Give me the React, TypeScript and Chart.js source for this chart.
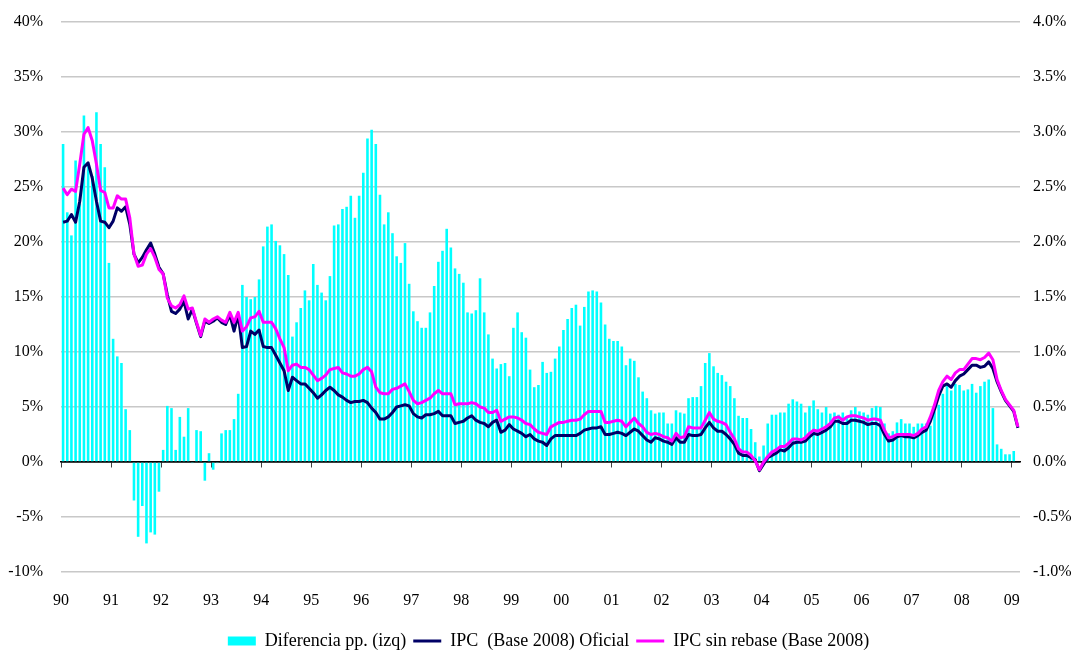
import React, { useEffect, useRef } from "react";
import { Chart, registerables } from "chart.js";

Chart.register(...registerables);

// Year tick labels (one per January, 1990 .. 2009)
const yearLabels = [
  "90", "91", "92", "93", "94", "95", "96", "97", "98", "99",
  "00", "01", "02", "03", "04", "05", "06", "07", "08", "09",
];

// Monthly values Jan-1990 .. Feb-2009 (230 months)
// Diferencia pp. (bars)
const diferencia: (number | null)[] = [
  // 1990
  28.9, 22.7, 20.6, 27.4, 23.5, 31.5, 27.0, 26.0, 31.8, 28.9, 26.8, 18.1,
  // 1991
  11.2, 9.6, 9.0, 4.8, 2.9, -3.5, -6.8, -4.0, -7.4, -6.4, -6.6, -2.7,
  // 1992
  1.1, 5.1, 4.9, 1.1, 4.1, 2.3, 4.9, -0.1, 2.9, 2.8, -1.7, 0.8,
  // 1993
  -0.7, -0.1, 2.6, 2.9, 2.9, 3.9, 6.2, 16.1, 15.0, 14.8, 15.0, 16.6,
  // 1994
  19.6, 21.4, 21.6, 20.1, 19.7, 18.9, 17.0, 11.4, 12.7, 14.0, 15.6, 14.7,
  // 1995
  18.0, 16.1, 15.4, 14.7, 16.9, 21.5, 21.6, 23.0, 23.2, 24.2, 22.2, 24.2,
  // 1996
  26.3, 29.4, 30.2, 28.9, 24.3, 21.6, 22.7, 20.8, 18.7, 18.1, 19.9, 16.2,
  // 1997
  13.7, 12.8, 12.2, 12.2, 13.6, 16.0, 18.2, 19.2, 21.2, 19.5, 17.6, 17.1,
  // 1998
  16.3, 13.6, 13.5, 13.8, 16.7, 13.6, 11.6, 9.4, 8.5, 8.9, 9.0, 7.8,
  // 1999
  12.2, 13.6, 11.8, 11.3, 8.4, 6.8, 7.0, 9.1, 8.1, 8.2, 9.4, 10.5,
  // 2000
  12.0, 13.0, 14.0, 14.3, 12.4, 14.1, 15.5, 15.6, 15.5, 14.5, 12.5, 11.2,
  // 2001
  11.0, 11.0, 10.5, 8.8, 9.4, 9.2, 7.7, 6.4, 5.8, 4.7, 4.4, 4.5,
  // 2002
  4.5, 3.5, 3.5, 4.7, 4.5, 4.4, 5.8, 5.9, 5.9, 6.9, 9.0, 9.9,
  // 2003
  8.7, 8.1, 7.9, 7.3, 6.9, 5.8, 4.2, 4.0, 4.0, 3.0, 1.8, 0.5,
  // 2004
  1.5, 3.5, 4.3, 4.3, 4.5, 4.5, 5.3, 5.7, 5.5, 5.3, 4.5, 5.1,
  // 2005
  5.6, 4.8, 4.5, 5.0, 4.4, 4.5, 4.3, 4.5, 4.1, 4.7, 5.0, 4.6,
  // 2006
  4.5, 4.3, 4.9, 5.1, 5.0, 3.5, 2.6, 2.8, 3.6, 3.9, 3.5, 3.5,
  // 2007
  3.2, 3.5, 3.5, 3.5, 3.3, 4.6, 5.2, 6.2, 6.9, 6.5, 7.1, 7.0,
  // 2008
  6.5, 6.6, 7.1, 6.3, 6.9, 7.3, 7.5, 4.9, 1.6, 1.2, 0.7, 0.7,
  // 2009
  1.0, null,
];

// IPC (Base 2008) Oficial
const ipcOficial = [
  21.8, 21.9, 22.5, 21.8, 23.7, 26.8, 27.2, 25.8, 23.7, 21.9, 21.8, 21.3,
  21.9, 23.1, 22.8, 23.2, 21.6, 18.9, 18.1, 18.6, 19.3, 19.9, 18.9, 17.7,
  17.1, 15.2, 13.7, 13.5, 13.9, 14.6, 13.0, 13.9, 12.6, 11.4, 12.8, 12.6,
  12.8, 13.1, 12.7, 12.5, 13.4, 11.9, 13.4, 10.4, 10.5, 11.9, 11.6, 12.0,
  10.5, 10.4, 10.4, 9.7, 9.0, 8.3, 6.5, 7.7, 7.4, 7.1, 7.1, 6.7,
  6.3, 5.8, 6.1, 6.5, 6.8, 6.5, 6.1, 5.9, 5.6, 5.4, 5.5, 5.5,
  5.6, 5.4, 4.9, 4.5, 3.9, 3.9, 4.1, 4.5, 5.0, 5.1, 5.2, 5.1,
  4.4, 4.1, 4.0, 4.3, 4.3, 4.4, 4.6, 4.2, 4.2, 4.2, 3.5, 3.6,
  3.7, 4.0, 4.2, 3.8, 3.6, 3.5, 3.2, 3.6, 3.8, 2.7, 2.9, 3.4,
  3.0, 2.8, 2.6, 2.3, 2.5, 2.1, 1.9, 1.8, 1.5, 2.1, 2.4, 2.4,
  2.4, 2.4, 2.4, 2.4, 2.6, 2.9, 3.0, 3.1, 3.1, 3.2, 2.5, 2.5,
  2.6, 2.7, 2.6, 2.4, 2.7, 3.0, 2.8, 2.4, 2.0, 1.8, 2.2, 2.1,
  1.9, 1.8, 1.6, 2.2, 1.8, 1.8, 2.5, 2.4, 2.4, 2.5, 3.1, 3.6,
  3.1, 2.8, 2.8, 2.5, 2.1, 1.6, 0.8, 0.6, 0.6, 0.4, 0.2, -0.8,
  -0.2, 0.4, 0.6, 0.8, 1.1, 1.0, 1.3, 1.7, 1.8, 1.8, 1.9, 2.3,
  2.6, 2.5, 2.7, 2.9, 3.2, 3.7, 3.7, 3.5, 3.5, 3.8, 3.8, 3.7,
  3.6, 3.4, 3.5, 3.5, 3.3, 2.5, 1.9, 2.0, 2.3, 2.4, 2.3, 2.3,
  2.2, 2.4, 2.7, 2.9, 3.7, 4.8, 6.0, 6.9, 7.1, 6.8, 7.4, 7.8,
  8.0, 8.4, 8.8, 8.8, 8.6, 8.7, 9.1, 8.5, 7.3, 6.4, 5.6, 5.1,
  4.6, 3.1,
];

// IPC sin rebase (Base 2008)
const ipcSinRebase = [
  24.9, 24.3, 24.8, 24.6, 27.1, 29.8, 30.4, 29.2, 27.1, 24.7, 24.5, 23.1,
  23.1, 24.2, 23.9, 23.9, 22.2, 18.9, 17.8, 17.9, 18.9, 19.4, 18.6, 17.5,
  17.1, 14.9, 14.2, 14.0, 14.3, 15.1, 13.9, 14.0, 12.7, 11.5, 13.0, 12.7,
  13.0, 13.2, 12.9, 12.7, 13.6, 12.7, 13.6, 11.9, 12.3, 13.1, 13.2, 13.7,
  12.7, 12.7, 12.7, 12.1, 11.2, 10.4, 8.3, 8.8, 8.9, 8.6, 8.6, 8.4,
  7.9, 7.4, 7.6, 7.9, 8.4, 8.5, 8.6, 8.1, 8.0, 7.8, 7.8, 8.0,
  8.4, 8.6, 8.2, 6.8, 6.3, 6.2, 6.2, 6.6, 6.7, 6.9, 7.1, 6.4,
  5.6, 5.3, 5.4, 5.6, 5.8, 6.2, 6.5, 6.2, 6.2, 6.2, 5.2, 5.3,
  5.3, 5.3, 5.4, 5.3, 5.0, 4.9, 4.5, 4.5, 4.7, 3.7, 3.9, 4.1,
  4.1, 4.0, 3.8, 3.5, 3.4, 3.0, 2.7, 2.6, 2.5, 3.2, 3.4, 3.6,
  3.6, 3.7, 3.8, 3.8, 3.9, 4.3, 4.6, 4.6, 4.6, 4.6, 3.6, 3.6,
  3.7, 3.8, 3.7, 3.2, 3.6, 4.0, 3.5, 3.2, 2.7, 2.5, 2.6, 2.5,
  2.3, 2.2, 1.9, 2.6, 2.2, 2.3, 3.2, 3.1, 3.1, 3.1, 3.8, 4.5,
  3.9, 3.7, 3.6, 3.4, 2.7, 2.1, 1.2, 0.9, 0.9, 0.6, 0.1, -0.7,
  0.0, 0.5, 0.9, 1.1, 1.4, 1.4, 1.7, 2.1, 2.1, 2.0, 2.2, 2.6,
  2.9, 2.8, 3.0, 3.2, 3.5, 4.0, 4.1, 3.8, 4.1, 4.2, 4.2, 4.1,
  4.0, 3.8, 3.9, 3.9, 3.8, 2.9, 2.2, 2.3, 2.5, 2.5, 2.5, 2.5,
  2.4, 2.6, 3.0, 3.2, 4.1, 5.2, 6.5, 7.3, 7.8, 7.5, 8.1, 8.4,
  8.4, 8.9, 9.4, 9.4, 9.3, 9.5, 9.9, 9.3, 7.5, 6.5, 5.7, 5.2,
  4.7, 3.2,
];

const FONT = "'Liberation Serif', 'Times New Roman', Times, serif";
const CYAN = "#00FFFF";
const NAVY = "#000066";
const MAGENTA = "#FF00FF";

const toXY = (arr: (number | null)[]) => arr.map((v, i) => ({ x: i, y: v }));

export default function App() {
  const canvasRef = useRef<HTMLCanvasElement | null>(null);

  useEffect(() => {
    document.body.style.margin = "0";
    const canvas = canvasRef.current;
    if (!canvas) return;

    const n = ipcOficial.length;
    const yearTicks = (scale: any) => {
      scale.ticks = yearLabels.map((_, k) => ({ value: -0.5 + 12 * k }));
    };
    const noVerticalPadding = (s: any, w: number) => {
      s.width = w;
      s.paddingTop = 0;
      s.paddingBottom = 0;
    };

    const chart = new Chart(canvas, {
      data: {
        datasets: [
          {
            type: "bar",
            label: "Diferencia pp. (izq)",
            data: toXY(diferencia) as any,
            backgroundColor: CYAN,
            borderWidth: 0,
            barPercentage: 0.62,
            categoryPercentage: 1,
            pointStyle: "rect",
            xAxisID: "x",
            yAxisID: "y",
            order: 3,
          } as any,
          {
            type: "line",
            label: "IPC  (Base 2008) Oficial",
            data: toXY(ipcOficial) as any,
            borderColor: NAVY,
            backgroundColor: NAVY,
            borderWidth: 3,
            pointRadius: 0,
            pointHoverRadius: 0,
            pointBorderWidth: 3,
            pointBorderColor: NAVY,
            pointBackgroundColor: NAVY,
            pointStyle: "line",
            tension: 0,
            borderJoinStyle: "round",
            xAxisID: "x",
            yAxisID: "y",
            order: 2,
          } as any,
          {
            type: "line",
            label: "IPC sin rebase (Base 2008)",
            data: toXY(ipcSinRebase) as any,
            borderColor: MAGENTA,
            backgroundColor: MAGENTA,
            borderWidth: 3,
            pointRadius: 0,
            pointHoverRadius: 0,
            pointBorderWidth: 3,
            pointBorderColor: MAGENTA,
            pointBackgroundColor: MAGENTA,
            pointStyle: "line",
            tension: 0,
            borderJoinStyle: "round",
            xAxisID: "x",
            yAxisID: "y",
            order: 1,
          } as any,
        ],
      },
      options: {
        animation: false,
        responsive: false,
        maintainAspectRatio: false,
        devicePixelRatio: 1,
        layout: { padding: { top: 22, left: 0, right: -22, bottom: -6 } },
        plugins: {
          tooltip: { enabled: false },
          legend: {
            position: "bottom",
            fullSize: true,
            labels: {
              usePointStyle: true,
              pointStyleWidth: 28,
              boxHeight: 9,
              padding: 7,
              color: "#000",
              font: { family: FONT, size: 18 },
              sort: (a: any, b: any) => a.datasetIndex - b.datasetIndex,
            },
          },
        },
        scales: {
          x: {
            type: "linear",
            position: "bottom",
            offset: false,
            min: -0.5,
            max: n - 0.5,
            afterBuildTicks: yearTicks,
            afterFit: (s: any) => {
              s.height = 53;
            },
            grid: { display: false, drawTicks: false, offset: false },
            border: { display: false },
            ticks: {
              autoSkip: false,
              maxRotation: 0,
              padding: 19,
              color: "#000",
              font: { family: FONT, size: 16 },
              callback: (_v: any, i: number) => yearLabels[i],
            },
          },
          xz: {
            type: "linear",
            axis: "x",
            position: { y: 0 },
            offset: false,
            min: -0.5,
            max: n - 0.5,
            afterBuildTicks: yearTicks,
            grid: {
              drawOnChartArea: false,
              drawTicks: true,
              tickLength: 5,
              color: "#404040",
              lineWidth: 1,
              offset: false,
            },
            border: { display: true, color: "#000", width: 1.5 },
            ticks: { display: false },
          },
          y: {
            position: "left",
            min: -10,
            max: 40,
            afterFit: (s: any) => noVerticalPadding(s, 61),
            border: { display: false },
            grid: {
              drawTicks: false,
              color: (ctx: any) => (ctx.tick && ctx.tick.value === 0 ? "#000" : "#c8c8c8"),
              lineWidth: 1.5,
            },
            ticks: {
              stepSize: 5,
              padding: 18,
              color: "#000",
              font: { family: FONT, size: 16 },
              callback: (v: any) => `${v}%`,
            },
          },
          y1: {
            position: "right",
            min: -1,
            max: 4,
            afterFit: (s: any) => noVerticalPadding(s, 77),
            border: { display: false },
            grid: { display: false, drawTicks: false },
            ticks: {
              stepSize: 0.5,
              padding: 13,
              color: "#000",
              font: { family: FONT, size: 16 },
              callback: (v: any) => `${Number(v).toFixed(1)}%`,
            },
          },
        },
      } as any,
    });

    return () => {
      chart.destroy();
    };
  }, []);

  return (
    <div style={{ width: 1075, height: 654, background: "#fff", overflow: "hidden" }}>
      <canvas ref={canvasRef} width={1075} height={654} style={{ display: "block" }} />
    </div>
  );
}
